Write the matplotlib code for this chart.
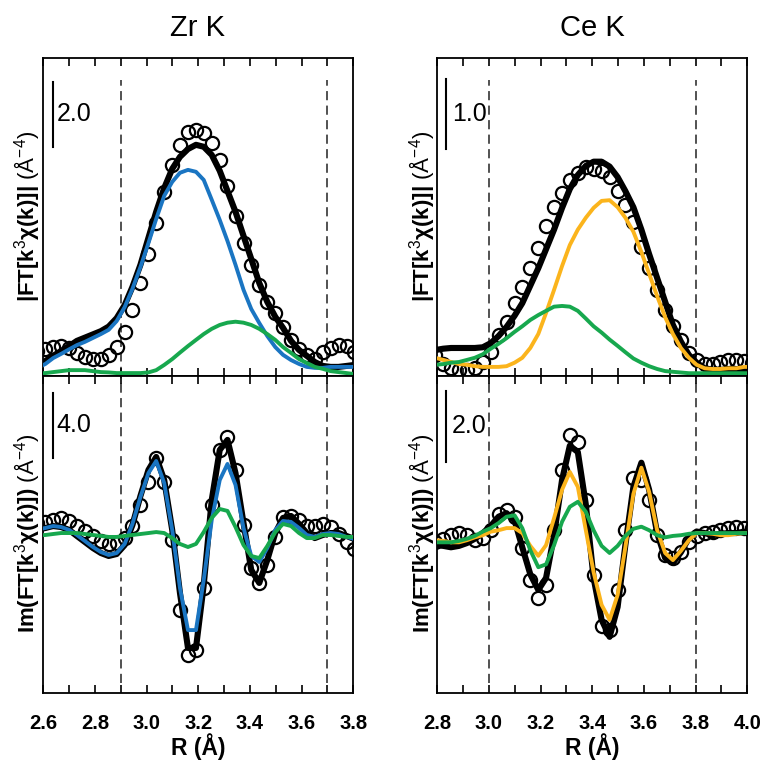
import matplotlib
matplotlib.use("Agg")
import matplotlib.pyplot as plt
from matplotlib.ticker import MultipleLocator

plt.rcParams['font.family'] = ['Liberation Sans', 'DejaVu Sans']
plt.rcParams['mathtext.fontset'] = 'custom'
plt.rcParams['mathtext.rm'] = 'Liberation Sans'
plt.rcParams['mathtext.it'] = 'Liberation Sans:italic'
plt.rcParams['mathtext.bf'] = 'Liberation Sans:bold'

# R grid (Å) of the Fourier transforms
r_zr = [2.577, 2.608, 2.638, 2.669, 2.700, 2.730, 2.761, 2.792, 2.823, 2.853,
        2.884, 2.915, 2.945, 2.976, 3.007, 3.037, 3.068, 3.099, 3.129, 3.160,
        3.191, 3.221, 3.252, 3.283, 3.313, 3.344, 3.375, 3.405, 3.436, 3.467,
        3.498, 3.528, 3.559, 3.590, 3.620, 3.651, 3.682, 3.712, 3.743, 3.774,
        3.804, 3.835]
r_ce = [2.792, 2.823, 2.853, 2.884, 2.915, 2.945, 2.976, 3.007, 3.037, 3.068,
        3.099, 3.129, 3.160, 3.191, 3.221, 3.252, 3.283, 3.313, 3.344, 3.375,
        3.405, 3.436, 3.467, 3.498, 3.528, 3.559, 3.590, 3.620, 3.651, 3.682,
        3.712, 3.743, 3.774, 3.804, 3.835, 3.866, 3.896, 3.927, 3.958, 3.988,
        4.019]

# Zr K, magnitude
zr_mag_data = [0.78, 0.82, 0.90, 0.92, 0.85, 0.72, 0.59, 0.51, 0.51, 0.65,
               0.90, 1.36, 2.03, 2.85, 3.75, 4.72, 5.67, 6.49, 7.11, 7.50,
               7.57, 7.48, 7.17, 6.65, 5.85, 4.92, 4.09, 3.42, 2.80, 2.28,
               1.94, 1.51, 1.11, 0.83, 0.65, 0.52, 0.74, 0.86, 0.95, 0.92,
               0.74, 0.60]
zr_mag_fit = [0.31, 0.46, 0.62, 0.77, 0.92, 1.08, 1.18, 1.28, 1.38, 1.52,
              1.78, 2.18, 2.74, 3.42, 4.25, 5.05, 5.78, 6.37, 6.74, 6.98,
              7.11, 7.05, 6.80, 6.31, 5.69, 5.05, 4.31, 3.60, 2.86, 2.28,
              1.82, 1.48, 1.08, 0.80, 0.62, 0.43, 0.31, 0.28, 0.28, 0.31,
              0.34, 0.36]
zr_mag_p1 = [0.25, 0.37, 0.55, 0.68, 0.82, 0.95, 1.05, 1.17, 1.29, 1.42,
             1.69, 2.12, 2.68, 3.35, 4.09, 4.83, 5.54, 5.97, 6.25, 6.34,
             6.28, 6.03, 5.42, 4.80, 4.15, 3.42, 2.65, 2.06, 1.63, 1.23,
             0.89, 0.65, 0.49, 0.37, 0.28, 0.25, 0.25, 0.28, 0.28, 0.28,
             0.28, 0.30]
zr_mag_p2 = [0.08, 0.09, 0.12, 0.15, 0.18, 0.18, 0.18, 0.15, 0.12, 0.11,
             0.09, 0.09, 0.09, 0.09, 0.11, 0.18, 0.34, 0.52, 0.72, 0.92,
             1.11, 1.29, 1.45, 1.57, 1.64, 1.67, 1.64, 1.57, 1.45, 1.29,
             1.11, 0.89, 0.71, 0.52, 0.40, 0.28, 0.22, 0.15, 0.12, 0.09,
             0.06, 0.05]

# Zr K, imaginary part
zr_im_data = [0.70, 0.77, 0.89, 1.02, 0.83, 0.52, 0.22, -0.09, -0.40, -0.60,
              -0.55, -0.20, 0.50, 1.80, 3.20, 4.70, 3.23, -0.34, -4.65, -7.42,
              -7.11, -3.29, 1.82, 5.20, 6.00, 3.97, 0.58, -2.06, -2.98, -1.88,
              -0.15, 1.08, 1.14, 0.89, 0.55, 0.55, 0.65, 0.45, 0.05, -0.45,
              -0.90, -1.30]
zr_im_fit = [0.30, 0.40, 0.52, 0.46, 0.28, -0.09, -0.46, -0.83, -1.14, -1.32,
             -1.20, -0.65, 0.58, 2.37, 3.97, 4.77, 3.35, 0.28, -3.60, -6.98,
             -6.98, -3.11, 2.12, 5.20, 5.82, 3.78, 0.71, -2.18, -2.98, -1.57,
             0.09, 1.02, 1.14, 0.65, 0.09, -0.22, -0.03, 0.09, 0.09, -0.09,
             -0.28, -0.40]
zr_im_p1 = [0.30, 0.40, 0.52, 0.46, 0.28, -0.03, -0.40, -0.77, -1.08, -1.26,
            -1.14, -0.58, 0.65, 2.31, 3.78, 4.52, 3.17, 0.28, -3.29, -5.88,
            -5.88, -2.80, 0.89, 3.35, 4.34, 3.05, 0.40, -1.32, -1.69, -0.83,
            0.28, 0.83, 0.77, 0.40, -0.03, -0.15, 0.03, 0.09, 0.03, -0.15,
            -0.28, -0.40]
zr_im_p2 = [-0.05, -0.03, 0.03, 0.09, 0.09, 0.09, 0.03, -0.03, -0.09, -0.15,
            -0.15, -0.09, -0.03, 0.03, 0.09, 0.15, 0.09, -0.22, -0.58, -0.77,
            -0.58, 0.15, 1.02, 1.57, 1.45, 0.46, -0.65, -1.32, -1.45, -0.71,
            0.15, 0.65, 0.52, 0.09, -0.22, -0.22, -0.03, -0.03, -0.09, -0.15,
            -0.15, -0.15]

# Ce K, magnitude
ce_mag_data = [0.30, 0.17, 0.11, 0.09, 0.09, 0.11, 0.20, 0.34, 0.59, 0.77,
               1.04, 1.27, 1.54, 1.83, 2.14, 2.41, 2.61, 2.80, 2.90, 2.98,
               2.96, 2.93, 2.84, 2.64, 2.44, 2.20, 1.84, 1.54, 1.23, 0.94,
               0.71, 0.51, 0.33, 0.23, 0.17, 0.17, 0.20, 0.23, 0.23, 0.21,
               0.19]
ce_mag_fit = [0.37, 0.39, 0.40, 0.40, 0.40, 0.40, 0.41, 0.47, 0.57, 0.70,
              0.86, 1.04, 1.29, 1.54, 1.81, 2.09, 2.40, 2.67, 2.87, 3.00,
              3.06, 3.06, 2.99, 2.84, 2.64, 2.41, 2.09, 1.74, 1.40, 1.06,
              0.73, 0.49, 0.30, 0.19, 0.11, 0.09, 0.09, 0.09, 0.09, 0.10,
              0.10]
ce_mag_p1 = [0.26, 0.23, 0.20, 0.17, 0.16, 0.14, 0.13, 0.13, 0.13, 0.14,
             0.19, 0.26, 0.40, 0.60, 0.90, 1.23, 1.57, 1.87, 2.09, 2.26,
             2.40, 2.50, 2.51, 2.41, 2.26, 2.06, 1.77, 1.46, 1.14, 0.84,
             0.60, 0.40, 0.26, 0.16, 0.11, 0.10, 0.10, 0.11, 0.11, 0.13,
             0.13]
ce_mag_p2 = [0.16, 0.17, 0.19, 0.20, 0.23, 0.26, 0.31, 0.39, 0.46, 0.54,
             0.63, 0.71, 0.80, 0.87, 0.93, 0.99, 1.00, 0.99, 0.93, 0.82,
             0.71, 0.62, 0.52, 0.43, 0.34, 0.25, 0.19, 0.14, 0.10, 0.07,
             0.06, 0.05, 0.04, 0.04, 0.04, 0.04, 0.04, 0.04, 0.04, 0.04,
             0.04]

# Ce K, imaginary part
ce_im_data = [-0.22, -0.12, -0.02, 0.04, -0.02, -0.16, -0.10, 0.12, 0.58, 0.70,
              0.50, -0.38, -1.28, -1.78, -1.42, 0.12, 1.82, 2.80, 2.60, 0.98,
              -1.14, -2.58, -2.70, -1.56, 0.12, 1.60, 1.54, 0.98, -0.02, -0.58,
              -0.66, -0.50, -0.22, -0.04, 0.04, 0.08, 0.12, 0.18, 0.20, 0.18,
              0.18]
ce_im_fit = [-0.30, -0.32, -0.36, -0.32, -0.24, -0.12, 0.04, 0.24, 0.50, 0.60,
             0.40, -0.36, -1.12, -1.56, -1.22, -0.02, 1.54, 2.50, 2.32, 0.84,
             -1.22, -2.40, -2.88, -2.04, -0.30, 1.34, 2.02, 1.26, 0.04, -0.66,
             -0.80, -0.50, -0.10, 0.08, 0.04, -0.02, 0.02, 0.04, 0.04, 0.08,
             0.08]
ce_im_p1 = [-0.16, -0.18, -0.22, -0.22, -0.16, -0.08, -0.02, 0.08, 0.12, 0.18,
            0.18, 0.04, -0.32, -0.60, -0.30, 0.46, 1.26, 1.76, 1.34, 0.12,
            -1.06, -1.98, -2.40, -1.70, -0.36, 1.14, 1.88, 1.20, 0.12, -0.52,
            -0.72, -0.46, -0.16, 0.04, 0.04, 0.02, -0.02, -0.02, 0.02, 0.04,
            0.04]
ce_im_p2 = [-0.22, -0.22, -0.22, -0.18, -0.12, -0.04, 0.08, 0.18, 0.32, 0.50,
            0.54, 0.18, -0.44, -0.92, -0.84, -0.30, 0.36, 0.78, 0.92, 0.64,
            0.12, -0.32, -0.52, -0.32, -0.04, 0.16, 0.22, 0.12, -0.02, -0.08,
            -0.04, -0.02, 0.02, 0.04, 0.04, 0.04, 0.04, 0.04, 0.04, 0.04,
            0.04]

BLUE = '#1a75c2'
ORANGE = '#fbb41c'
GREEN = '#17a84e'

mag_label = "|FT[k$^3$χ(k)]| $(\\mathrm{\\AA}^{-4})$"
im_label = "Im(FT[k$^3$χ(k)]) $(\\mathrm{\\AA}^{-4})$"

W, H = 763, 762
fig = plt.figure(figsize=(W / 100, H / 100), dpi=100)


def px_axes(x0, y0, x1, y1):
    return fig.add_axes([x0 / W, 1 - y1 / H, (x1 - x0) / W, (y1 - y0) / H])


def draw_panel(ax, r, data, fit, p1, p2, c1, xlim, ylim, dashes, dash_span,
               bar, bar_text, bottom):
    ax.plot(r, data, 'o', mfc='none', mec='k', ms=9.5, mew=1.6, zorder=3)
    ax.plot(r, fit, color='k', lw=4.4, zorder=4, solid_joinstyle='round')
    ax.plot(r, p1, color=c1, lw=2.8, zorder=5, solid_joinstyle='round')
    ax.plot(r, p2, color=GREEN, lw=2.8, zorder=6, solid_joinstyle='round')
    for d in dashes:
        ax.axvline(d, ymin=dash_span[0], ymax=dash_span[1], color='#222222',
                   lw=1.1, ls=(0, (6, 3.5)), zorder=1)
    bx, by0, by1, tx = bar
    ax.plot([bx, bx], [by0, by1], color='k', lw=1.5)
    ax.text(tx, (by0 + by1) / 2, bar_text, ha='left', va='center', fontsize=18)
    ax.set_xlim(*xlim)
    ax.set_ylim(*ylim)
    ax.set_yticks([])
    major = [round(xlim[0] + 0.2 * i, 1) for i in range(7)]
    ax.set_xticks(major)
    ax.xaxis.set_minor_locator(MultipleLocator(0.1))
    ax.tick_params(axis='x', which='both', direction='in', top=True,
                   bottom=True, length=5.5, width=1.2, pad=15,
                   labelbottom=bottom)
    if bottom:
        ax.set_xticklabels(['%.1f' % t for t in major], fontsize=14.5,
                           fontweight='bold')
        ax.set_xlabel('R (Å)', fontsize=16.5, fontweight='bold', labelpad=0)
    for s in ax.spines.values():
        s.set_linewidth(1.3)


# Zr K column
ax = px_axes(43.3, 58, 353.3, 376)
draw_panel(ax, r_zr, zr_mag_data, zr_mag_fit, zr_mag_p1, zr_mag_p2, BLUE,
           (2.6, 3.8), (0, 9.78), [2.9, 3.7], (0, 0.93),
           (2.6375, 7.05, 9.05, 2.652), '2.0', False)
ax = px_axes(43.3, 376, 353.3, 693)
draw_panel(ax, r_zr, zr_im_data, zr_im_fit, zr_im_p1, zr_im_p2, BLUE,
           (2.6, 3.8), (-9.75, 9.75), [2.9, 3.7], (0.03, 1),
           (2.6375, 4.71, 8.71, 2.652), '4.0', True)

# Ce K column
ax = px_axes(437.3, 58, 747.3, 376)
draw_panel(ax, r_ce, ce_mag_data, ce_mag_fit, ce_mag_p1, ce_mag_p2, ORANGE,
           (2.8, 4.0), (0, 4.54), [3.0, 3.8], (0, 0.93),
           (2.834, 3.24, 4.24, 2.856), '1.0', False)
ax = px_axes(437.3, 376, 747.3, 693)
draw_panel(ax, r_ce, ce_im_data, ce_im_fit, ce_im_p1, ce_im_p2, ORANGE,
           (2.8, 4.0), (-4.46, 4.46), [3.0, 3.8], (0.03, 1),
           (2.834, 2.05, 4.05, 2.856), '2.0', True)

# titles and y labels
fig.text(198 / W, 1 - 28 / H, 'Zr K', ha='center', va='center', fontsize=21)
fig.text(592 / W, 1 - 28 / H, 'Ce K', ha='center', va='center', fontsize=21)
for xc in (27, 422):
    fig.text(xc / W, 1 - 216 / H, mag_label, rotation=90, ha='center',
             va='center', fontsize=16, fontweight='bold')
    fig.text(xc / W, 1 - 533.5 / H, im_label, rotation=90, ha='center',
             va='center', fontsize=16, fontweight='bold')

fig.savefig('out.png', dpi=100, facecolor='white')
